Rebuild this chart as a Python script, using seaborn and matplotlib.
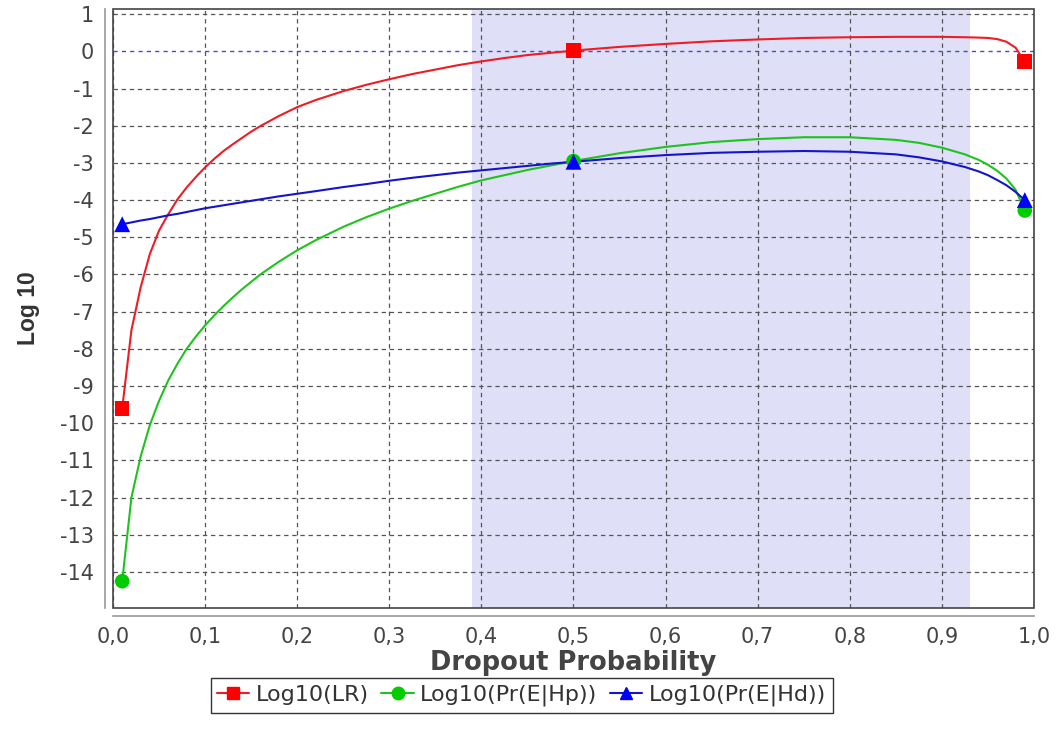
import numpy as np
import pandas as pd
import matplotlib
matplotlib.use("Agg")
import matplotlib.pyplot as plt
import seaborn as sns
from matplotlib.ticker import FuncFormatter
from matplotlib.patches import Rectangle
from matplotlib.lines import Line2D

# ---- data ----
dropout = [0.01, 0.02, 0.03, 0.04, 0.05, 0.06, 0.07, 0.08, 0.09, 0.10, 0.11, 0.12, 0.13, 0.14,
           0.15, 0.16, 0.18, 0.20, 0.22, 0.25, 0.275, 0.30, 0.325, 0.35, 0.375, 0.40, 0.425,
           0.45, 0.475, 0.50, 0.55, 0.60, 0.65, 0.70, 0.75, 0.80, 0.85, 0.875, 0.90, 0.925,
           0.94, 0.95, 0.96, 0.97, 0.98, 0.99]
log_lr = [-9.6, -7.5, -6.35, -5.45, -4.82, -4.38, -3.98, -3.66, -3.38, -3.12, -2.89, -2.68,
          -2.5, -2.33, -2.16, -2.01, -1.74, -1.5, -1.31, -1.07, -0.9, -0.75, -0.61, -0.49,
          -0.37, -0.27, -0.18, -0.1, -0.04, 0.02, 0.12, 0.2, 0.27, 0.32, 0.36, 0.38, 0.39,
          0.39, 0.39, 0.38, 0.37, 0.36, 0.33, 0.26, 0.1, -0.28]
log_hp = [-14.25, -12.0, -10.9, -10.05, -9.4, -8.85, -8.4, -8.0, -7.67, -7.37, -7.1, -6.85,
          -6.62, -6.4, -6.2, -6.0, -5.66, -5.35, -5.08, -4.72, -4.46, -4.23, -4.02, -3.83,
          -3.64, -3.47, -3.33, -3.19, -3.07, -2.95, -2.74, -2.57, -2.44, -2.36, -2.31, -2.31,
          -2.38, -2.46, -2.59, -2.77, -2.92, -3.05, -3.21, -3.42, -3.72, -4.28]
log_hd = [-4.65, -4.6, -4.55, -4.51, -4.46, -4.41, -4.37, -4.32, -4.27, -4.22, -4.18, -4.14,
          -4.1, -4.06, -4.02, -3.98, -3.9, -3.83, -3.76, -3.65, -3.57, -3.48, -3.4, -3.33,
          -3.26, -3.2, -3.14, -3.08, -3.02, -2.97, -2.87, -2.79, -2.73, -2.7, -2.68, -2.7,
          -2.77, -2.85, -2.96, -3.11, -3.23, -3.33, -3.46, -3.6, -3.78, -4.0]
marker_x = [0.01, 0.5, 0.99]
series_names = ["Log10(LR)", "Log10(Pr(E|Hp))", "Log10(Pr(E|Hd))"]
shade_range = [0.39, 0.93]
x_ticks = [0.0, 0.1, 0.2, 0.3, 0.4, 0.5, 0.6, 0.7, 0.8, 0.9, 1.0]
y_ticks = list(range(1, -15, -1))

line_colors = ["#ee1c24", "#1ec31e", "#1414cc"]
marker_colors = ["#ff0000", "#00cc00", "#0000ff"]
markers = ["s", "o", "^"]

n = len(dropout)
df = pd.DataFrame({
    "x": dropout * 3,
    "y": log_lr + log_hp + log_hd,
    "series": [series_names[0]] * n + [series_names[1]] * n + [series_names[2]] * n,
})
mdf = df[df["x"].isin(marker_x)]

sns.set_theme(style="white")
plt.rcParams["font.family"] = ["DejaVu Sans"]
plt.rcParams["axes.unicode_minus"] = False

fig = plt.figure(figsize=(10.58, 7.29), dpi=100)
ax = fig.add_axes([0.1068, 0.166, 0.8705, 0.8217])

ax.axvspan(shade_range[0], shade_range[1], color="#dfdff8", zorder=0, lw=0)

sns.lineplot(data=df, x="x", y="y", hue="series", palette=dict(zip(series_names, line_colors)),
             estimator=None, sort=False, lw=1.5, legend=False, ax=ax, zorder=3)
for name, mk, mc in zip(series_names, markers, marker_colors):
    sub = mdf[mdf["series"] == name]
    sns.scatterplot(data=sub, x="x", y="y", marker=mk, color=mc, s=110 if mk != "^" else 130,
                    edgecolor="none", linewidth=0, legend=False, ax=ax, zorder=4)

ax.set_xlim(0, 1.0)
ax.set_ylim(-14.97, 1.14)
ax.set_xticks(x_ticks)
ax.set_yticks(y_ticks)
ax.xaxis.set_major_formatter(FuncFormatter(lambda v, p: f"{v:.1f}".replace(".", ",")))
ax.yaxis.set_major_formatter(FuncFormatter(lambda v, p: f"{int(round(v))}"))

grid_kw = dict(color="#555555", lw=0.9, ls=(0, (3.5, 3)), zorder=1)
ax.grid(True, axis="x", **grid_kw)
for t in y_ticks:
    if t != 0:
        ax.axhline(t, **grid_kw)
ax.axhline(0, color="#4a4ad0", lw=1.0, ls=(0, (3, 3)), zorder=2)

for s in ["top", "right"]:
    ax.spines[s].set_visible(False)
for s in ["left", "bottom"]:
    ax.spines[s].set_position(("outward", 6))
    ax.spines[s].set_color("#999999")
    ax.spines[s].set_linewidth(1.2)
ax.add_patch(Rectangle((0, 0), 1, 1, transform=ax.transAxes, fill=False,
                       edgecolor="#444444", lw=1.2, clip_on=False, zorder=5))
ax.tick_params(axis="both", which="major", direction="out", length=4, width=1,
               color="#999999", labelcolor="#444444", labelsize=15, pad=4)

ax.set_xlabel("Dropout Probability", fontsize=18.5, fontweight="bold", color="#444444", labelpad=2)
ax.set_ylabel("Log 10", fontsize=16.5, fontweight="bold", color="#333333", labelpad=14,
              family=["Liberation Sans Narrow", "Liberation Sans", "DejaVu Sans"])

handles = [Line2D([0], [0], color=lc, lw=1.5, marker=mk, markerfacecolor=mc, markeredgecolor=mc,
                  markersize=9) for lc, mc, mk in zip(line_colors, marker_colors, markers)]
leg = fig.legend(handles, series_names, loc="center", bbox_to_anchor=(0.493, 0.046), ncol=3,
                 frameon=True, fancybox=False, edgecolor="black", fontsize=16,
                 handlelength=1.45, handletextpad=0.3, columnspacing=0.55, borderpad=0.3,
                 labelcolor="#333333")
leg.get_frame().set_linewidth(1.0)

fig.savefig("out.png", dpi=100)
